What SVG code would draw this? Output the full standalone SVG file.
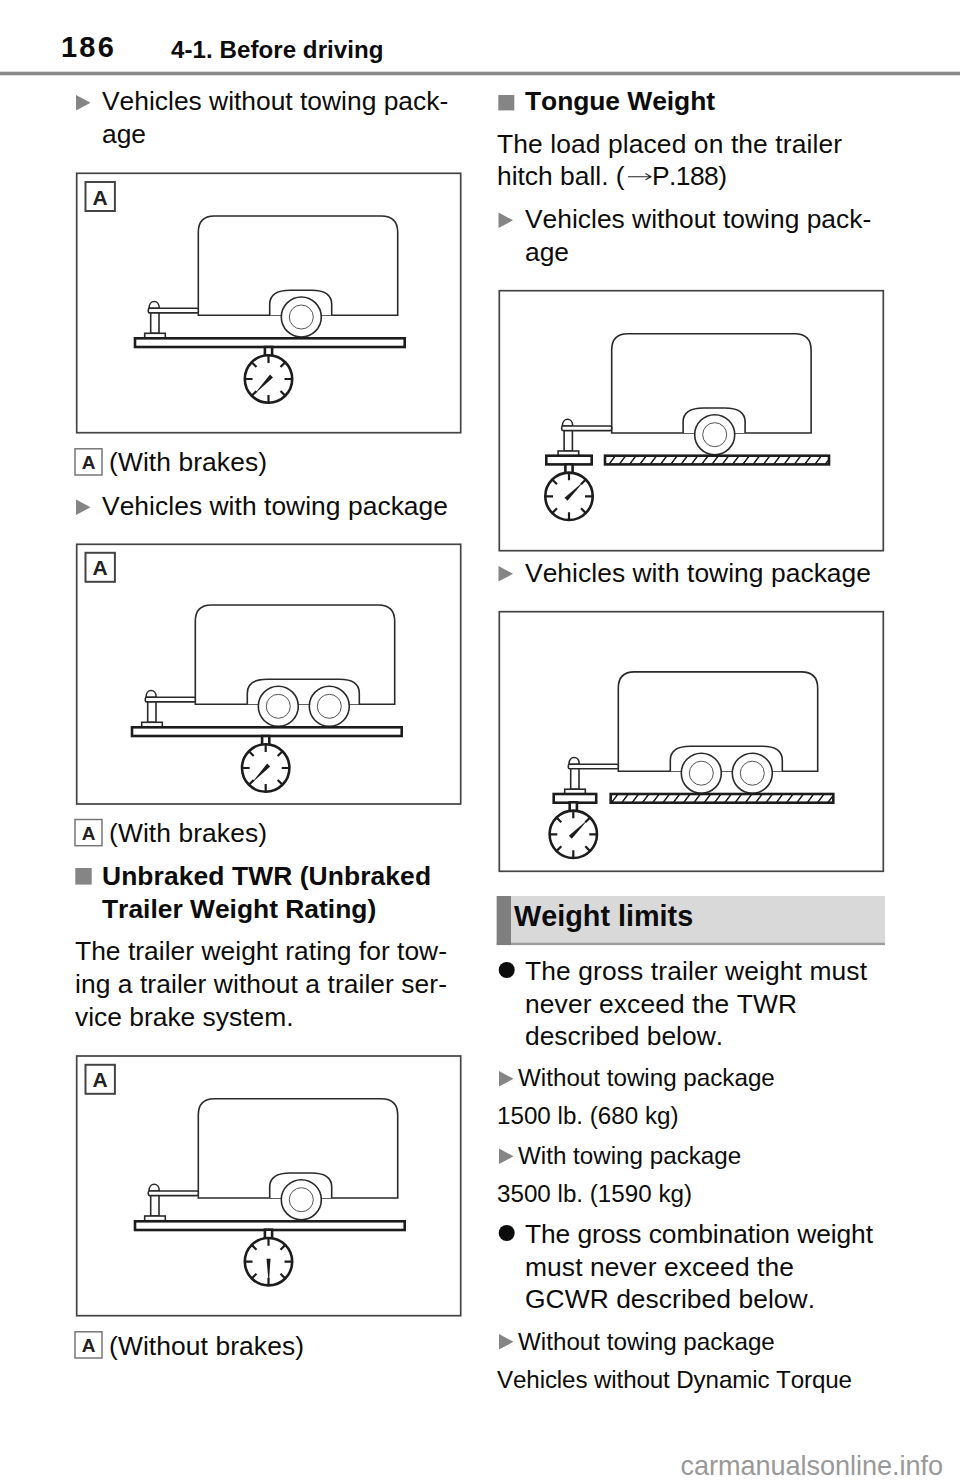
<svg xmlns="http://www.w3.org/2000/svg" width="960" height="1484" viewBox="0 0 960 1484">
<style>
text{font-family:"Liberation Sans",Arial,sans-serif;fill:#0c0c0c;font-kerning:none}
.b{font-size:26.4px}
.s{font-size:24.2px}
.h{font-weight:700;font-size:26.4px}
.tag{font-weight:700;text-anchor:middle;fill:#222}
.panel{fill:#fff;stroke:#444;stroke-width:1.7}
.line{fill:#fff;stroke:#2a2a2a;stroke-width:1.6}
.thin{fill:none;stroke:#555;stroke-width:1}
.heavy{fill:#fff;stroke:#1c1c1c;stroke-width:2.6}
.tick{stroke:#1c1c1c;stroke-width:2.2;fill:none}
.mark{fill:#858585}
</style>
<defs>
<pattern id="hatch" patternUnits="userSpaceOnUse" width="10.3" height="12" patternTransform="skewX(-37)">
<rect width="10.3" height="12" fill="#fff"/><rect x="0" width="1.9" height="12" fill="#1c1c1c"/>
</pattern>
<path id="tri" class="mark" d="M0,0 L14.5,7.8 L0,15.6 Z"/>
<g id="body">
<path class="line" d="M0,0 V-83 Q0,-99.3 16,-99.3 H183 Q199.4,-99.3 199.4,-83 V0 Z"/>
</g>
<g id="hitch">
<path class="line" d="M-49.3,-7 C-49.3,-16 -39,-16 -39,-7 Z"/>
<rect class="line" x="-47.6" y="-3" width="8.3" height="21"/>
<rect class="line" x="-50" y="-7" width="50" height="4.6" rx="1.5"/>
<rect class="line" x="-53.6" y="18" width="20.6" height="4.7"/>
</g>
<g id="wheel">
<circle class="line" r="20"/><circle class="thin" r="12"/>
</g>
<g id="one">
<use href="#body"/>
<path class="line" d="M71.4,0 V-11 Q71.4,-25 92,-25 H113 Q133.4,-25 133.4,-11 V0"/>
<use href="#wheel" x="103" y="1.7"/>
<use href="#hitch"/>
</g>
<g id="two">
<use href="#body"/>
<path class="line" d="M52,0 V-11 Q52,-25 72,-25 H144 Q164,-25 164,-11 V0"/>
<use href="#wheel" x="83" y="2"/>
<use href="#wheel" x="134" y="2"/>
<use href="#hitch"/>
</g>
<g id="dial">
<rect class="heavy" x="-3.6" y="-32" width="7.2" height="9"/>
<circle class="heavy" r="23.7"/>
<path class="tick" d="M0,-23V-16M0,23V16M-23,0H-16M23,0H16M-16.3,-16.3L-12,-12M16.3,-16.3L12,-12M-16.3,16.3L-12,12M16.3,16.3L12,12"/>
</g>
<polygon id="nA" fill="#1c1c1c" points="1.5,-4.5 4.5,-1.5 -14.5,15.5"/>
<polygon id="nB" fill="#1c1c1c" points="-4.5,1.5 -1.5,4.5 15,-15"/>
<polygon id="nC" fill="#1c1c1c" points="-2,-3 2,-3 0.3,23"/>
</defs>
<rect width="960" height="1484" fill="#fff"/>

<g id="header">
<text x="61" y="56.5" letter-spacing="2.2" style="font-weight:700;font-size:29px">186</text>
<text x="171" y="57.5" textLength="212.5" style="font-weight:700;font-size:24.1px">4-1. Before driving</text>
<rect x="0" y="71.7" width="960" height="3.6" fill="#8a8a8a"/>
</g>

<g id="left-column-text">
<use href="#tri" x="76" y="95"/>
<text x="102" y="110" class="b">Vehicles without towing pack-</text>
<text x="102" y="142.5" class="b">age</text>
<text x="109" y="471" class="b" textLength="158">(With brakes)</text>
<use href="#tri" x="76" y="499.5"/>
<text x="102" y="515" class="b" textLength="346">Vehicles with towing package</text>
<text x="109" y="842" class="b" textLength="158">(With brakes)</text>
<rect class="mark" x="75.3" y="868" width="16.4" height="16.6"/>
<text x="102" y="885" class="h" textLength="329">Unbraked TWR (Unbraked</text>
<text x="102" y="917.5" class="h">Trailer Weight Rating)</text>
<text x="75" y="960" class="b" textLength="372">The trailer weight rating for tow-</text>
<text x="75" y="993" class="b" textLength="372">ing a trailer without a trailer ser-</text>
<text x="75" y="1026" class="b">vice brake system.</text>
<text x="109" y="1355" class="b" textLength="195">(Without brakes)</text>
</g>

<g id="panel-a1">
<rect class="panel" x="76.7" y="173.3" width="384" height="259.4"/>
<rect x="85.5" y="182" width="29.4" height="29" fill="#fff" stroke="#444" stroke-width="2"/>
<text x="100.2" y="204.5" font-size="21" class="tag">A</text>
<use href="#one" x="198.3" y="315.3"/>
<rect class="heavy" x="135" y="338.3" width="269.7" height="8.7"/>
<use href="#dial" x="268.5" y="379"/>
<use href="#nA" x="268.5" y="379"/>
</g>
<g id="tag-a1">
<rect x="75" y="448.8" width="27" height="26.2" fill="#fff" stroke="#777" stroke-width="1.5"/>
<text x="88.5" y="469" font-size="19" class="tag">A</text>
</g>

<g id="panel-a2">
<rect class="panel" x="76.7" y="544.3" width="384" height="259.7"/>
<rect x="85.5" y="552.8" width="29.4" height="29" fill="#fff" stroke="#444" stroke-width="2"/>
<text x="100.2" y="575.3" font-size="21" class="tag">A</text>
<use href="#two" x="195.3" y="704.3"/>
<rect class="heavy" x="132" y="727.3" width="269.7" height="8.7"/>
<use href="#dial" x="265.7" y="768"/>
<use href="#nA" x="265.7" y="768"/>
</g>
<g id="tag-a2">
<rect x="75" y="819.5" width="27" height="26.2" fill="#fff" stroke="#777" stroke-width="1.5"/>
<text x="88.5" y="840" font-size="19" class="tag">A</text>
</g>

<g id="panel-a3">
<rect class="panel" x="76.7" y="1056" width="384" height="259.7"/>
<rect x="85.5" y="1064.8" width="29.4" height="29" fill="#fff" stroke="#444" stroke-width="2"/>
<text x="100.2" y="1087.3" font-size="21" class="tag">A</text>
<use href="#one" x="198.3" y="1198"/>
<rect class="heavy" x="135" y="1221.3" width="269.7" height="8.7"/>
<use href="#dial" x="268.5" y="1261.7"/>
<use href="#nC" x="268.5" y="1261.7"/>
</g>
<g id="tag-a3">
<rect x="75" y="1331.8" width="27" height="26.2" fill="#fff" stroke="#777" stroke-width="1.5"/>
<text x="88.5" y="1352" font-size="19" class="tag">A</text>
</g>

<g id="right-column-text">
<rect class="mark" x="498.3" y="95" width="16" height="15.4"/>
<text x="525" y="110" class="h" textLength="190">Tongue Weight</text>
<text x="497" y="152.5" class="b" textLength="345">The load placed on the trailer</text>
<text x="497" y="185" class="b">hitch ball. (</text>
<path d="M628,176.7 H650 M645.5,173.6 L651,176.7 L645.5,179.8" fill="none" stroke="#222" stroke-width="1.1"/>
<text x="652" y="185" class="b" textLength="75">P.188)</text>
<use href="#tri" x="498.5" y="212.5"/>
<text x="525" y="228" class="b">Vehicles without towing pack-</text>
<text x="525" y="260.5" class="b">age</text>
<use href="#tri" x="498.5" y="566"/>
<text x="525" y="581.5" class="b" textLength="346">Vehicles with towing package</text>
</g>

<g id="panel-b1">
<rect class="panel" x="499.3" y="290.7" width="384" height="260"/>
<use href="#one" x="611.7" y="433"/>
<rect class="heavy" x="546.3" y="455.7" width="45.4" height="8.7"/>
<rect class="heavy" x="605" y="455.7" width="224" height="8.7" style="fill:url(#hatch)"/>
<use href="#dial" x="569" y="496.3"/>
<use href="#nB" x="569" y="496.3"/>
</g>

<g id="panel-b2">
<rect class="panel" x="499.3" y="611.7" width="384" height="259.6"/>
<use href="#two" x="618.3" y="771.2"/>
<rect class="heavy" x="553.7" y="794" width="42.5" height="8.7"/>
<rect class="heavy" x="610.7" y="794" width="222.6" height="8.7" style="fill:url(#hatch)"/>
<use href="#dial" x="573.3" y="834.3"/>
<use href="#nB" x="573.3" y="834.3"/>
</g>

<g id="weight-limits">
<rect x="496.7" y="896" width="388.3" height="49" fill="#d9d9d9"/>
<rect x="496.7" y="942.7" width="388.3" height="2.4" fill="#9c9c9c"/>
<rect x="496.7" y="896" width="14.3" height="49" fill="#7f7f7f"/>
<text x="514" y="925.5" font-size="28.8" style="font-weight:700">Weight limits</text>
</g>

<g id="limits-text">
<circle cx="506.7" cy="970" r="8" fill="#0c0c0c"/>
<text x="525" y="980" class="b" textLength="342">The gross trailer weight must</text>
<text x="525" y="1012.5" class="b" textLength="272">never exceed the TWR</text>
<text x="525" y="1045" class="b">described below.</text>
<use href="#tri" x="499" y="1071"/>
<text x="518" y="1086" class="s">Without towing package</text>
<text x="497" y="1124" class="s">1500 lb. (680 kg)</text>
<use href="#tri" x="499" y="1148.5"/>
<text x="518" y="1164" class="s">With towing package</text>
<text x="497" y="1202" class="s">3500 lb. (1590 kg)</text>
<circle cx="506.7" cy="1233" r="8" fill="#0c0c0c"/>
<text x="525" y="1243" class="b" textLength="348">The gross combination weight</text>
<text x="525" y="1275.5" class="b" textLength="269">must never exceed the</text>
<text x="525" y="1308" class="b" textLength="290">GCWR described below.</text>
<use href="#tri" x="499" y="1334"/>
<text x="518" y="1350" class="s">Without towing package</text>
<text x="497" y="1388" class="s" textLength="355">Vehicles without Dynamic Torque</text>
</g>

<text id="watermark" x="680.5" y="1475" font-size="27.1" textLength="262.5" style="fill:#999">carmanualsonline.info</text>
</svg>
